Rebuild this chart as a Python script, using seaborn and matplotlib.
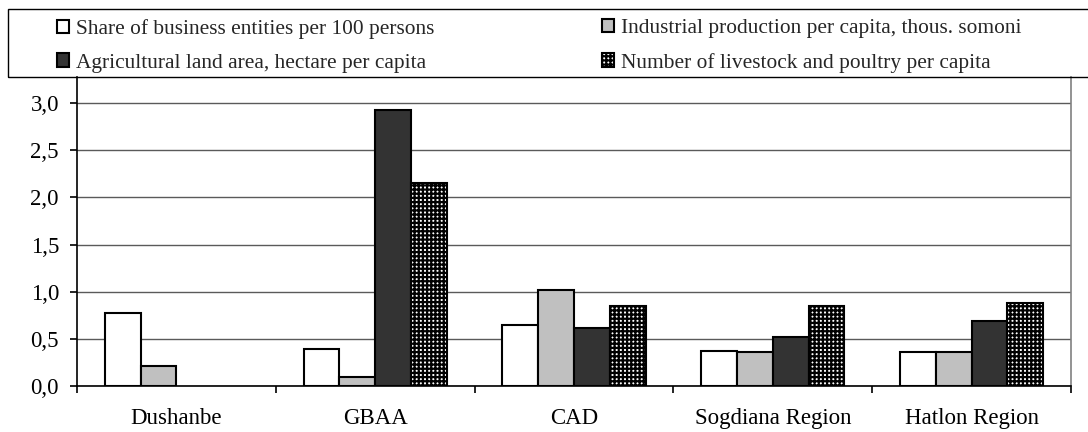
import numpy as np
import pandas as pd
import matplotlib
matplotlib.use("Agg")
import matplotlib.pyplot as plt
from matplotlib.patches import Patch, Rectangle
import seaborn as sns

# Regional indicators
regions = ["Dushanbe", "GBAA", "CAD", "Sogdiana Region", "Hatlon Region"]
series = [
    "Share of business entities per 100 persons",
    "Industrial production per capita, thous. somoni",
    "Agricultural land area, hectare per capita",
    "Number of livestock and poultry per capita",
]
business_entities = [0.77, 0.39, 0.65, 0.37, 0.36]
industrial_output = [0.21, 0.09, 1.02, 0.36, 0.36]
agri_land = [np.nan, 2.93, 0.61, 0.52, 0.69]
livestock = [np.nan, 2.15, 0.85, 0.85, 0.88]

y_ticks = [0.0, 0.5, 1.0, 1.5, 2.0, 2.5, 3.0]
y_tick_labels = ["0,0", "0,5", "1,0", "1,5", "2,0", "2,5", "3,0"]

df = pd.DataFrame({
    "region": regions * 4,
    "series": sum([[s] * len(regions) for s in series], []),
    "value": business_entities + industrial_output + agri_land + livestock,
})

face_colors = ["#ffffff", "#c0c0c0", "#333333", "#ffffff"]
hatches = [None, None, None, "++++"]

sns.set_theme(style="white")
plt.rcParams["font.family"] = ["Liberation Serif", "DejaVu Serif"]
plt.rcParams["hatch.linewidth"] = 1.6

W, H = 1088, 432
fig = plt.figure(figsize=(W / 100, H / 100), dpi=100)
ax = fig.add_axes([77 / W, (H - 385.7) / H, (1071 - 77) / W, (385.7 - 77) / H])

sns.barplot(
    data=df, x="region", y="value", hue="series",
    order=regions, hue_order=series, palette=face_colors,
    saturation=1, width=0.72, gap=0, errorbar=None,
    edgecolor="black", linewidth=1.5, legend=False, ax=ax,
)
for cont, h in zip(ax.containers, hatches):
    if h:
        for p in cont:
            p.set_hatch(h)

ax.set_xlim(-0.5, len(regions) - 0.5)
ax.set_ylim(0, 3.28)
ax.set_yticks(y_ticks)
ax.set_yticklabels(y_tick_labels)
ax.set_xlabel("")
ax.set_ylabel("")

ax.yaxis.grid(True, color="#5a5a5a", linewidth=1.0)
ax.set_axisbelow(True)

ax.spines["top"].set_visible(False)
ax.spines["right"].set_color("#808080")
ax.spines["right"].set_linewidth(1.2)
for s in ("left", "bottom"):
    ax.spines[s].set_color("black")
    ax.spines[s].set_linewidth(1.2)

ax.set_xticks(np.arange(-0.5, len(regions)), minor=True)
ax.tick_params(axis="x", which="major", length=0, pad=16, labelsize=16.5, colors="black")
ax.tick_params(axis="x", which="minor", length=5, width=1.2, color="black", bottom=True)
ax.tick_params(axis="y", length=5, width=1.2, color="black", left=True, labelsize=16.5,
               labelcolor="black", pad=8)

# Legend frame across the top
fig.patches.append(Rectangle((8 / W, (H - 77) / H), 1.1, (77 - 9) / H,
                             transform=fig.transFigure, fill=False,
                             edgecolor="black", linewidth=1.0, zorder=0))

handles = [Patch(facecolor=c, edgecolor="black", linewidth=1.5, hatch=h, label=s)
           for c, h, s in zip(face_colors, hatches, series)]

common = dict(frameon=False, fontsize=15.4, handlelength=0.58, handleheight=0.58,
              handletextpad=0.3, labelspacing=0.68, borderpad=0, borderaxespad=0,
              loc="upper left")
leg1 = fig.legend(handles=[handles[0], handles[2]], bbox_to_anchor=(57 / W, 1 - 19 / H), **common)
leg2 = fig.legend(handles=[handles[1], handles[3]], bbox_to_anchor=(602 / W, 1 - 19 / H), **common)

fig.savefig("out.png", dpi=100)
